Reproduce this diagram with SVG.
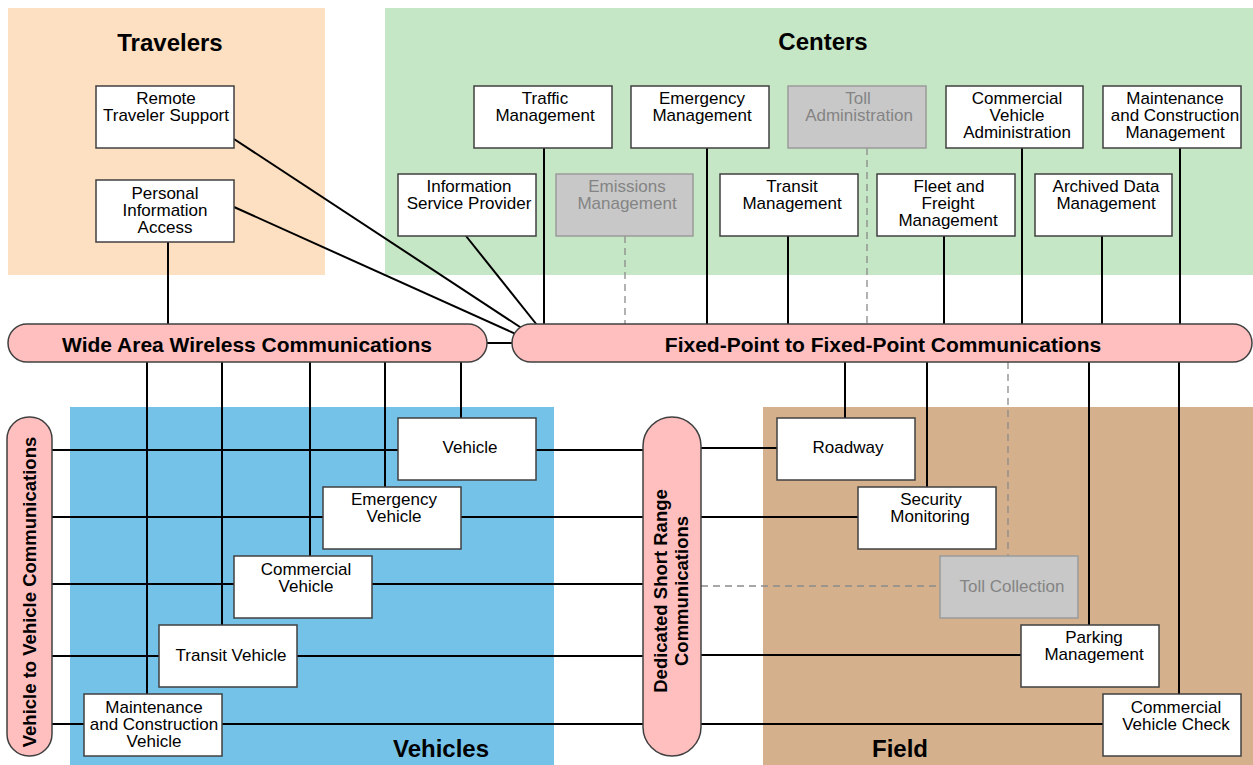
<svg xmlns="http://www.w3.org/2000/svg" width="1253" height="765" viewBox="0 0 1253 765">
<style>
  .bg-trav{fill:#FDDFC1}
  .bg-cent{fill:#C5E7C5}
  .bg-veh{fill:#74C2E8}
  .bg-field{fill:#D5B08C}
  .title{font-family:"Liberation Sans",Arial,sans-serif;font-weight:bold;font-size:24px;fill:#000;text-anchor:middle}
  .bar{fill:#FFBFBF;stroke:#404040;stroke-width:1.5}
  .barlabel{font-family:"Liberation Sans",Arial,sans-serif;font-weight:bold;font-size:21px;fill:#000;text-anchor:middle}
  .vbarlabel{font-family:"Liberation Sans",Arial,sans-serif;font-weight:bold;font-size:18.5px;fill:#000;text-anchor:middle}
  .box{fill:#fff;stroke:#404040;stroke-width:1.5}
  .gbox{fill:#C8C8C8;stroke:#9A9A9A;stroke-width:1.5}
  .lbl{font-family:"Liberation Sans",Arial,sans-serif;font-size:17px;fill:#000;text-anchor:middle}
  .glbl{font-family:"Liberation Sans",Arial,sans-serif;font-size:17px;fill:#848484;text-anchor:middle}
  .conn{stroke:#000;stroke-width:2;fill:none}
  .dash{stroke:#8A8A8A;stroke-width:1.3;stroke-dasharray:7,5;fill:none}
</style>

<!-- regions -->
<g id="regions">
  <rect class="bg-trav" x="8" y="8" width="317" height="267"/>
  <rect class="bg-cent" x="385" y="8" width="868" height="267"/>
  <rect class="bg-veh" x="70" y="407" width="484" height="358"/>
  <rect class="bg-field" x="763" y="407" width="490" height="358"/>
  <text class="title" x="170" y="51">Travelers</text>
  <text class="title" x="823" y="50">Centers</text>
  <text class="title" x="441" y="757">Vehicles</text>
  <text class="title" x="900" y="757">Field</text>
</g>

<!-- connectors -->
<g id="connectors">
  <!-- travelers -->
  <line class="conn" x1="168" y1="242" x2="168" y2="324"/>
  <line class="conn" x1="234" y1="139" x2="523" y2="329"/>
  <line class="conn" x1="234" y1="207" x2="518" y2="335"/>
  <!-- centers -->
  <line class="conn" x1="466" y1="236" x2="537" y2="325"/>
  <line class="conn" x1="544" y1="148" x2="544" y2="324"/>
  <line class="conn" x1="707" y1="148" x2="707" y2="324"/>
  <line class="dash" x1="867" y1="148" x2="867" y2="324"/>
  <line class="conn" x1="1022" y1="148" x2="1022" y2="324"/>
  <line class="conn" x1="1180" y1="148" x2="1180" y2="324"/>
  <line class="dash" x1="625" y1="236" x2="625" y2="324"/>
  <line class="conn" x1="788" y1="236" x2="788" y2="324"/>
  <line class="conn" x1="944" y1="236" x2="944" y2="324"/>
  <line class="conn" x1="1102" y1="236" x2="1102" y2="324"/>
  <!-- bar to bar -->
  <line class="conn" x1="487" y1="343" x2="512" y2="343"/>
  <!-- wide area to vehicles -->
  <line class="conn" x1="147" y1="362" x2="147" y2="694"/>
  <line class="conn" x1="222" y1="362" x2="222" y2="625"/>
  <line class="conn" x1="310" y1="362" x2="310" y2="556"/>
  <line class="conn" x1="385" y1="362" x2="385" y2="487"/>
  <line class="conn" x1="461" y1="362" x2="461" y2="418"/>
  <!-- fixed to field -->
  <line class="conn" x1="845" y1="362" x2="845" y2="418"/>
  <line class="conn" x1="927" y1="362" x2="927" y2="487"/>
  <line class="dash" x1="1008" y1="362" x2="1008" y2="556"/>
  <line class="conn" x1="1089" y1="362" x2="1089" y2="625"/>
  <line class="conn" x1="1179" y1="362" x2="1179" y2="694"/>
  <!-- v2v to dsrc across vehicles -->
  <line class="conn" x1="52" y1="450" x2="643" y2="450"/>
  <line class="conn" x1="52" y1="517" x2="643" y2="517"/>
  <line class="conn" x1="52" y1="584" x2="643" y2="584"/>
  <line class="conn" x1="52" y1="656" x2="643" y2="656"/>
  <line class="conn" x1="52" y1="724" x2="643" y2="724"/>
  <!-- dsrc to field -->
  <line class="conn" x1="701" y1="448" x2="777" y2="448"/>
  <line class="conn" x1="701" y1="517" x2="858" y2="517"/>
  <line class="dash" x1="701" y1="586" x2="940" y2="586"/>
  <line class="conn" x1="701" y1="655" x2="1021" y2="655"/>
  <line class="conn" x1="701" y1="724" x2="1103" y2="724"/>
</g>

<!-- communication bars -->
<g id="wide-area-wireless">
  <rect class="bar" x="8" y="324" width="479" height="38" rx="19" ry="19"/>
  <text class="barlabel" x="247" y="352">Wide Area Wireless Communications</text>
</g>
<g id="fixed-point">
  <rect class="bar" x="512" y="324" width="740" height="38" rx="19" ry="19"/>
  <text class="barlabel" x="883" y="352">Fixed-Point to Fixed-Point Communications</text>
</g>
<g id="vehicle-to-vehicle">
  <rect class="bar" x="7" y="417" width="45" height="339" rx="22" ry="22"/>
  <text class="vbarlabel" transform="translate(29,592) rotate(-90)" x="0" y="7">Vehicle to Vehicle Communications</text>
</g>
<g id="dsrc">
  <rect class="bar" x="643" y="417" width="58" height="339" rx="29" ry="29"/>
  <text class="vbarlabel" transform="translate(672,591) rotate(-90)" x="0" y="-5">Dedicated Short Range</text>
  <text class="vbarlabel" transform="translate(672,591) rotate(-90)" x="0" y="16">Communications</text>
</g>

<!-- travelers -->
<g id="remote-traveler-support">
  <rect class="box" x="96" y="86" width="138" height="62"/>
  <text class="lbl" x="166" y="104">Remote</text>
  <text class="lbl" x="166" y="121">Traveler Support</text>
</g>
<g id="personal-information-access">
  <rect class="box" x="96" y="180" width="138" height="62"/>
  <text class="lbl" x="165" y="199">Personal</text>
  <text class="lbl" x="165" y="216">Information</text>
  <text class="lbl" x="165" y="233">Access</text>
</g>

<!-- centers -->
<g id="traffic-management">
  <rect class="box" x="474" y="86" width="138" height="62"/>
  <text class="lbl" x="545" y="104">Traffic</text>
  <text class="lbl" x="545" y="121">Management</text>
</g>
<g id="emergency-management">
  <rect class="box" x="631" y="86" width="138" height="62"/>
  <text class="lbl" x="702" y="104">Emergency</text>
  <text class="lbl" x="702" y="121">Management</text>
</g>
<g id="toll-administration">
  <rect class="gbox" x="788" y="86" width="138" height="62"/>
  <text class="glbl" x="858" y="104">Toll</text>
  <text class="glbl" x="859" y="121">Administration</text>
</g>
<g id="commercial-vehicle-administration">
  <rect class="box" x="946" y="86" width="137" height="62"/>
  <text class="lbl" x="1017" y="104">Commercial</text>
  <text class="lbl" x="1017" y="121">Vehicle</text>
  <text class="lbl" x="1017" y="138">Administration</text>
</g>
<g id="maintenance-construction-management">
  <rect class="box" x="1103" y="86" width="138" height="62"/>
  <text class="lbl" x="1175" y="104">Maintenance</text>
  <text class="lbl" x="1175" y="121">and Construction</text>
  <text class="lbl" x="1175" y="138">Management</text>
</g>
<g id="information-service-provider">
  <rect class="box" x="398" y="174" width="138" height="62"/>
  <text class="lbl" x="469" y="192">Information</text>
  <text class="lbl" x="469" y="209">Service Provider</text>
</g>
<g id="emissions-management">
  <rect class="gbox" x="556" y="174" width="137" height="62"/>
  <text class="glbl" x="627" y="192">Emissions</text>
  <text class="glbl" x="627" y="209">Management</text>
</g>
<g id="transit-management">
  <rect class="box" x="720" y="174" width="138" height="62"/>
  <text class="lbl" x="792" y="192">Transit</text>
  <text class="lbl" x="792" y="209">Management</text>
</g>
<g id="fleet-freight-management">
  <rect class="box" x="877" y="174" width="138" height="62"/>
  <text class="lbl" x="949" y="192">Fleet and</text>
  <text class="lbl" x="948" y="209">Freight</text>
  <text class="lbl" x="948" y="226">Management</text>
</g>
<g id="archived-data-management">
  <rect class="box" x="1035" y="174" width="137" height="62"/>
  <text class="lbl" x="1106" y="192">Archived Data</text>
  <text class="lbl" x="1106" y="209">Management</text>
</g>

<!-- vehicles -->
<g id="vehicle">
  <rect class="box" x="398" y="418" width="138" height="62"/>
  <text class="lbl" x="470" y="453">Vehicle</text>
</g>
<g id="emergency-vehicle">
  <rect class="box" x="323" y="487" width="138" height="62"/>
  <text class="lbl" x="394" y="505">Emergency</text>
  <text class="lbl" x="394" y="522">Vehicle</text>
</g>
<g id="commercial-vehicle">
  <rect class="box" x="234" y="556" width="138" height="62"/>
  <text class="lbl" x="306" y="575">Commercial</text>
  <text class="lbl" x="306" y="592">Vehicle</text>
</g>
<g id="transit-vehicle">
  <rect class="box" x="159" y="625" width="138" height="62"/>
  <text class="lbl" x="231" y="661">Transit Vehicle</text>
</g>
<g id="maintenance-construction-vehicle">
  <rect class="box" x="84" y="694" width="138" height="62"/>
  <text class="lbl" x="154" y="713">Maintenance</text>
  <text class="lbl" x="154" y="730">and Construction</text>
  <text class="lbl" x="154" y="747">Vehicle</text>
</g>

<!-- field -->
<g id="roadway">
  <rect class="box" x="777" y="418" width="138" height="62"/>
  <text class="lbl" x="848" y="453">Roadway</text>
</g>
<g id="security-monitoring">
  <rect class="box" x="858" y="487" width="138" height="62"/>
  <text class="lbl" x="931" y="505">Security</text>
  <text class="lbl" x="930" y="522">Monitoring</text>
</g>
<g id="toll-collection">
  <rect class="gbox" x="940" y="556" width="138" height="62"/>
  <text class="glbl" x="1012" y="592">Toll Collection</text>
</g>
<g id="parking-management">
  <rect class="box" x="1021" y="625" width="138" height="62"/>
  <text class="lbl" x="1094" y="643">Parking</text>
  <text class="lbl" x="1094" y="660">Management</text>
</g>
<g id="commercial-vehicle-check">
  <rect class="box" x="1103" y="694" width="138" height="62"/>
  <text class="lbl" x="1176" y="713">Commercial</text>
  <text class="lbl" x="1176" y="730">Vehicle Check</text>
</g>
</svg>
